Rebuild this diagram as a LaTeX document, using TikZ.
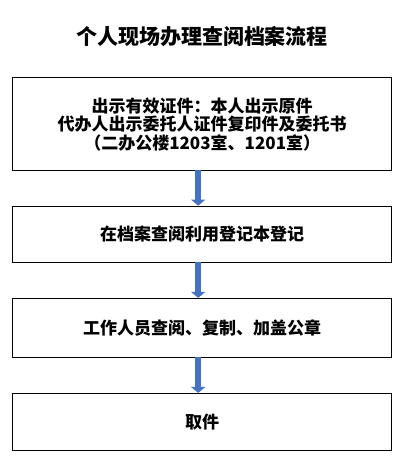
\documentclass[tikz,border=0pt]{standalone}
\usepackage{fontspec}
\setmainfont{Noto Sans CJK SC}
\usetikzlibrary{arrows.meta}
\definecolor{arrowblue}{HTML}{4472C4}
\tikzset{
  stepbox/.style={draw=black, line width=0.8pt, fill=white, minimum width=379pt, align=center, inner sep=0pt, font=\bfseries\fontsize{17}{18.5}\selectfont},
  flowarrow/.style={draw=arrowblue, line width=6pt, -{Triangle[width=14pt,length=6pt]}, shorten <=-1pt},
}
\begin{document}
\begin{tikzpicture}[x=1pt,y=1pt]
\useasboundingbox (0,0) rectangle (405,466);
\node[font=\bfseries\fontsize{21}{24}\selectfont] (title) at (202,429) {个人现场办理查阅档案流程};
\node[stepbox, minimum height=93pt] (b1) at (202.2,341.8) {出示有效证件：本人出示原件\\代办人出示委托人证件复印件及委托书\\（二办公楼1203室、1201室）};
\node[stepbox, minimum height=56.3pt] (b2) at (202.2,231.8) {在档案查阅利用登记本登记};
\node[stepbox, minimum height=59pt] (b3) at (202.2,138.2) {工作人员查阅、复制、加盖公章};
\node[stepbox, minimum height=56.7pt] (b4) at (202.2,44.3) {取件};
\draw[flowarrow] ([xshift=-4pt]b1.south) -- ([xshift=-4pt]b2.north);
\draw[flowarrow] ([xshift=-4pt]b2.south) -- ([xshift=-4pt]b3.north);
\draw[flowarrow] ([xshift=-4pt]b3.south) -- ([xshift=-4pt]b4.north);
\end{tikzpicture}
\end{document}
